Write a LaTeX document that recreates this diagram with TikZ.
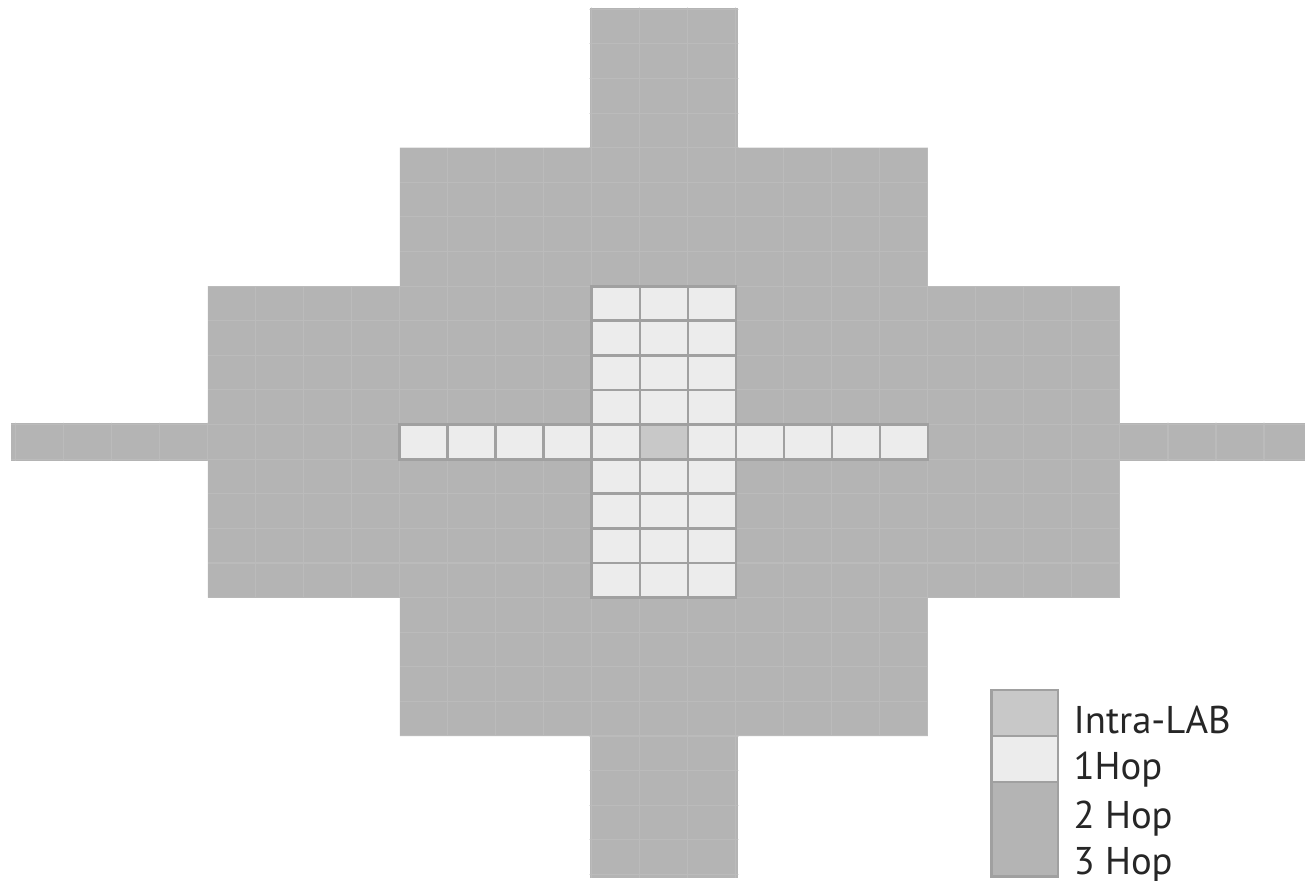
\documentclass[tikz,border=0pt]{standalone}
\usepackage{fontspec}
\setmainfont{PT Sans}
\definecolor{hopfar}{RGB}{180,180,180}
\definecolor{hopone}{RGB}{236,236,236}
\definecolor{intralab}{RGB}{200,200,200}
\definecolor{cellline}{RGB}{160,160,160}
\definecolor{faintline}{RGB}{187,187,187}

\begin{document}
\begin{tikzpicture}[x=0.48cm, y=0.346cm,
    lightcell/.style={fill=hopone, draw=cellline, line width=0.8pt},
    centrecell/.style={fill=intralab, draw=cellline, line width=0.8pt},
    every node/.style={font=\fontsize{11}{13}\selectfont, text=black!85, inner sep=0pt, anchor=base west}]
  \useasboundingbox (-13.83,-12.69) rectangle (13.375,12.77);

  % 2 and 3 hop area
  \fill[hopfar] (-13.6,-0.55) rectangle (13.35,0.55);
  \fill[hopfar] (-5.5,-8.5) rectangle (5.5,8.5);
  \fill[hopfar] (-9.5,-4.5) rectangle (9.5,4.5);
  \fill[hopfar] (-1.55,8.5) rectangle (1.55,12.55);
  \fill[hopfar] (-1.55,-12.6) rectangle (1.55,-8.5);
  \begin{scope}
    \clip (-13.6,-0.55) rectangle (13.35,0.55)
          (-5.5,-8.5) rectangle (5.5,8.5)
          (-9.5,-4.5) rectangle (9.5,4.5)
          (-1.55,8.5) rectangle (1.55,12.55)
          (-1.55,-12.6) rectangle (1.55,-8.5);
    \draw[faintline, line width=0.3pt, xstep=1, ystep=1, shift={(0.5,0.5)}] (-15,-14) grid (15,14);
  \end{scope}

  % 1 hop cells
  \foreach \row in {-4,...,4}
    \foreach \col in {-1,0,1}
      \draw[lightcell] (\col-0.5,\row-0.5) rectangle ++(1,1);
  \foreach \col in {-5,...,-2,2,3,4,5}
    \draw[lightcell] (\col-0.5,-0.5) rectangle ++(1,1);
  % intra-LAB
  \draw[centrecell] (-0.5,-0.5) rectangle (0.5,0.5);

  % legend
  \fill[intralab] (6.83,-8.5) rectangle (8.21,-7.17);
  \fill[hopone] (6.83,-9.83) rectangle (8.21,-8.5);
  \fill[hopfar] (6.83,-12.57) rectangle (8.21,-9.83);
  \draw[cellline, line width=0.8pt] (6.83,-8.5) -- (8.21,-8.5)
        (6.83,-9.83) -- (8.21,-9.83);
  \draw[cellline, line width=0.8pt] (6.83,-12.57) rectangle (8.21,-7.17);
  \node (intra) at (8.52,-8.44) {Intra-LAB};
  \node (hopone) at (8.52,-9.77) {1Hop};
  \node (hoptwo) at (8.52,-11.16) {2 Hop};
  \node (hopthree) at (8.52,-12.51) {3 Hop};
\end{tikzpicture}
\end{document}
